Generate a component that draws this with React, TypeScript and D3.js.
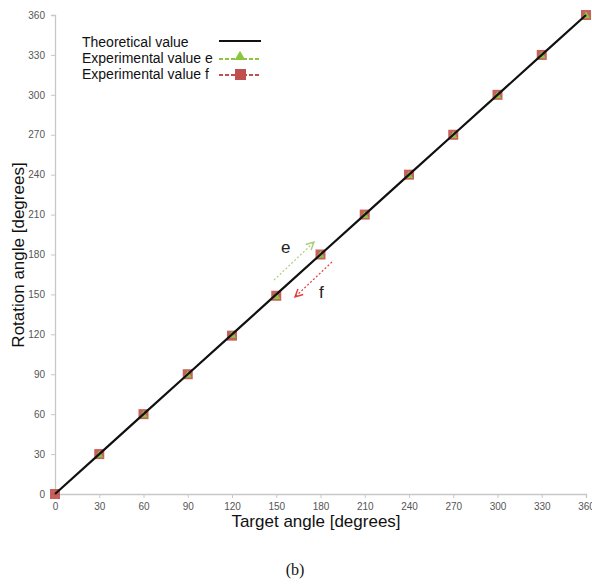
import React from "react";
import * as d3 from "d3";

const targetAngles = [0, 30, 60, 90, 120, 150, 180, 210, 240, 270, 300, 330, 360];
const theoretical = [0, 30, 60, 90, 120, 150, 180, 210, 240, 270, 300, 330, 360];
const experimentalE = [0, 30, 60, 90, 120, 149, 180, 210, 240, 270, 300, 330, 360];
const experimentalF = [0, 30, 60, 90, 119, 149, 180, 210, 240, 270, 300, 330, 360];
const tickValues = [0, 30, 60, 90, 120, 150, 180, 210, 240, 270, 300, 330, 360];

export default function App() {
  const svgRef = React.useRef<SVGSVGElement>(null);
  const width = 592;
  const height = 587;
  const margin = { left: 55, right: 6, top: 15, bottom: 93 };

  React.useEffect(() => {
    const svg = d3.select(svgRef.current);
    svg.selectAll("*").remove();

    const x = d3.scaleLinear().domain([0, 360]).range([margin.left, width - margin.right]);
    const y = d3.scaleLinear().domain([0, 360]).range([height - margin.bottom, margin.top]);
    const font = "Arial, 'Liberation Sans', sans-serif";

    // axes
    const xAxis = svg.append("g")
      .attr("transform", `translate(0,${y(0)})`)
      .call(d3.axisBottom(x).tickValues(tickValues).tickSize(4).tickPadding(5));
    const yAxis = svg.append("g")
      .attr("transform", `translate(${x(0)},0)`)
      .call(d3.axisLeft(y).tickValues(tickValues).tickSize(4).tickPadding(6));
    [xAxis, yAxis].forEach(g => {
      g.select(".domain").attr("stroke", "#c8c8c8").attr("stroke-width", 1.3);
      g.selectAll(".tick line").attr("stroke", "#c8c8c8");
      g.selectAll("text").attr("fill", "#555").attr("font-size", 10).attr("font-family", font);
    });

    // theoretical line
    const line = d3.line<number>().x((d, i) => x(targetAngles[i])).y(d => y(d));

    // experimental f (red squares)
    svg.selectAll(".sq").data(experimentalF).enter().append("rect")
      .attr("x", (d, i) => x(targetAngles[i]) - 5)
      .attr("y", d => y(d) - 5)
      .attr("width", 10).attr("height", 10)
      .attr("fill", "#c0504d").attr("opacity", 0.9);

    // experimental e (green triangles)
    const tri = d3.symbol().type(d3.symbolTriangle).size(28);
    svg.selectAll(".tri").data(experimentalE.slice(1)).enter().append("path")
      .attr("d", tri)
      .attr("transform", (d, i) => `translate(${x(targetAngles[i + 1])},${y(d) + 1})`)
      .attr("fill", "#8cc63f");

    svg.append("path").datum(theoretical)
      .attr("d", line).attr("fill", "none").attr("stroke", "#111").attr("stroke-width", 2.2);

    // legend
    const lg = svg.append("g").attr("font-family", font).attr("font-size", 14).attr("fill", "#111");
    lg.append("text").attr("x", 82).attr("y", 47).text("Theoretical value");
    lg.append("text").attr("x", 82).attr("y", 63).text("Experimental value e");
    lg.append("text").attr("x", 82).attr("y", 79).text("Experimental value f");
    lg.append("line").attr("x1", 219).attr("x2", 261).attr("y1", 41).attr("y2", 41)
      .attr("stroke", "#111").attr("stroke-width", 2);
    lg.append("line").attr("x1", 219).attr("x2", 261).attr("y1", 59).attr("y2", 59)
      .attr("stroke", "#8cc63f").attr("stroke-width", 2).attr("stroke-dasharray", "4,2");
    lg.append("path").attr("d", d3.symbol().type(d3.symbolTriangle).size(50))
      .attr("transform", "translate(240,57)").attr("fill", "#8cc63f");
    lg.append("line").attr("x1", 219).attr("x2", 261).attr("y1", 75).attr("y2", 75)
      .attr("stroke", "#c0504d").attr("stroke-width", 2).attr("stroke-dasharray", "4,2");
    lg.append("rect").attr("x", 235).attr("y", 69).attr("width", 11).attr("height", 11)
      .attr("fill", "#c0504d");

    // arrows
    const defs = svg.append("defs");
    [["arrG", "#a9cf7a"], ["arrR", "#e03c3c"]].forEach(([id, c]) => {
      defs.append("marker").attr("id", id).attr("viewBox", "0 0 10 10")
        .attr("refX", 9).attr("refY", 5).attr("markerWidth", 8).attr("markerHeight", 8)
        .attr("orient", "auto")
        .append("path").attr("d", "M1,1 L9,5 L1,9").attr("fill", "none").attr("stroke", c).attr("stroke-width", 1.5);
    });
    svg.append("line").attr("x1", 274).attr("y1", 280).attr("x2", 314).attr("y2", 242)
      .attr("stroke", "#a9cf7a").attr("stroke-width", 1.2).attr("stroke-dasharray", "2,2")
      .attr("marker-end", "url(#arrG)");
    svg.append("line").attr("x1", 332).attr("y1", 262).attr("x2", 295).attr("y2", 297)
      .attr("stroke", "#e03c3c").attr("stroke-width", 1.2).attr("stroke-dasharray", "2,2")
      .attr("marker-end", "url(#arrR)");
    svg.append("text").attr("x", 281).attr("y", 253).text("e")
      .attr("font-family", font).attr("font-size", 17).attr("fill", "#222");
    svg.append("text").attr("x", 319).attr("y", 298).text("f")
      .attr("font-family", font).attr("font-size", 17).attr("fill", "#222");

    // axis titles
    svg.append("text").attr("x", 316).attr("y", 527).attr("text-anchor", "middle")
      .attr("font-family", font).attr("font-size", 17).attr("fill", "#111")
      .text("Target angle [degrees]");
    svg.append("text").attr("transform", "translate(24,255) rotate(-90)").attr("text-anchor", "middle")
      .attr("font-family", font).attr("font-size", 17).attr("fill", "#111")
      .text("Rotation angle [degrees]");

    // caption
    svg.append("text").attr("x", 295).attr("y", 575).attr("text-anchor", "middle")
      .attr("font-family", "'Times New Roman', 'Liberation Serif', serif").attr("font-size", 16)
      .attr("fill", "#111").text("(b)");
  }, []);

  return (
    <svg ref={svgRef} width={width} height={height}
      style={{ position: "absolute", left: 0, top: 0, background: "#fff" }} />
  );
}
